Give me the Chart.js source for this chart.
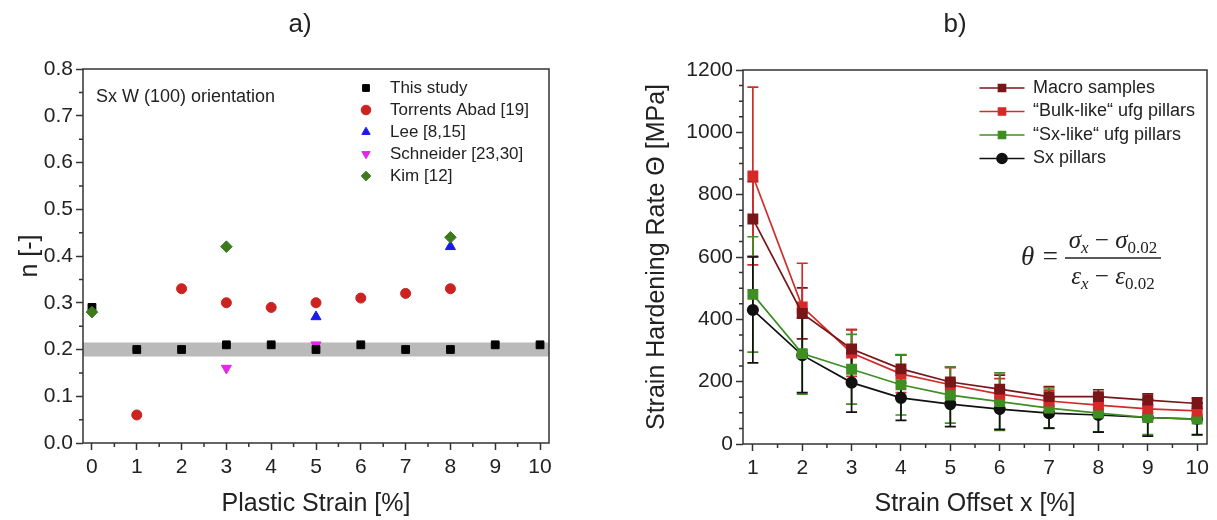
<!DOCTYPE html>
<html>
<head>
<meta charset="utf-8">
<script src="https://cdn.jsdelivr.net/npm/chart.js@4.4.0/dist/chart.umd.min.js"></script>
<style>
body{margin:0;background:#fff;width:1217px;height:520px;overflow:hidden;position:relative}
.box{position:absolute;top:0;height:520px}
#boxA{left:0;width:600px}
#boxB{left:600px;width:617px}
</style>
</head>
<body>
<div class="box" id="boxA"><canvas id="chartA"></canvas></div>
<div class="box" id="boxB"><canvas id="chartB"></canvas></div>
<script>
// ---------- a) n vs plastic strain ----------
const strainA    = [0,1,2,3,4,5,6,7,8,9,10];
const thisStudy  = [0.29,0.20,0.20,0.21,0.21,0.20,0.21,0.20,0.20,0.21,0.21];
const torrentsX  = [1,2,3,4,5,6,7,8];
const torrentsN  = [0.06,0.33,0.30,0.29,0.30,0.31,0.32,0.33];
const leeX       = [5,8];
const leeN       = [0.27,0.42];
const schneiderX = [3,5];
const schneiderN = [0.16,0.21];
const kimX       = [0,3,8];
const kimN       = [0.28,0.42,0.44];
const bandA      = [0.185,0.215];   // grey band
const xRangeA    = [-0.2,10.2];
const xTicksA    = [0,1,2,3,4,5,6,7,8,9,10];
const yTicksA    = [0,0.1,0.2,0.3,0.4,0.5,0.6,0.7,0.8];

// ---------- b) strain hardening rate ----------
const strainB   = [1,2,3,4,5,6,7,8,9,10];
const macro     = [722,419,305,241,199,176,152,152,141,130];
const macroErr  = [120,82,62,45,48,45,32,22,20,18];
const bulk      = [860,440,292,225,190,160,138,125,113,106];
const bulkErr   = [285,140,75,60,55,50,35,30,28,25];
const sxLike    = [480,290,240,190,157,136,115,99,85,80];
const sxLikeErr = [185,130,112,97,90,92,65,60,55,52];
const sxPil     = [430,285,197,148,128,112,99,93,85,80];
const sxPilErr  = [170,120,95,72,72,65,48,55,60,50];
const xRangeB   = [0.8,10.2];
const xTicksB   = [1,2,3,4,5,6,7,8,9,10];
const yTicksB   = [0,200,400,600,800,1000,1200];

const FONT = "'Liberation Sans', Arial, sans-serif";
const INK = '#222';

function pts(xs, ys){ return xs.map((x,i)=>({x:x, y:ys[i]})); }

// majors + minor ticks between them
function tickSet(majors, sub){
  const out=[];
  for(let i=0;i<majors.length;i++){
    out.push(majors[i]);
    if(i<majors.length-1){
      const d=(majors[i+1]-majors[i])/sub;
      for(let k=1;k<sub;k++) out.push(majors[i]+k*d);
    }
  }
  return out;
}
function isMajor(majors, v){ return majors.some(m=>Math.abs(m-v)<1e-9); }

function axis(min, max, majors, sub, fmt, title, titlePad, size, pad){
  return {
    type:'linear', min:min, max:max,
    afterBuildTicks:(s)=>{ s._majors = majors; s.ticks = tickSet(majors, sub).map(v=>({value:v})); },
    afterFit:(s)=>{ if(s.isHorizontal()) s.height=size; else s.width=size; },
    ticks:{ autoSkip:false, maxRotation:0, color:INK, padding:pad,
      font:{family:FONT,size:21},
      callback:(v)=> isMajor(majors,v) ? fmt(v) : '' },
    grid:{ drawOnChartArea:false, drawTicks:true, tickLength:7, tickWidth:1.5,
      tickColor:(c)=> (c.tick && isMajor(majors,c.tick.value)) ? '#333' : 'rgba(0,0,0,0)' },
    border:{ display:false },
    title:{ display:true, text:title, color:INK, font:{family:FONT,size:25}, padding:titlePad }
  };
}

// frame round the plot area + short minor ticks
const framePlugin = {
  id:'frame',
  afterDraw(chart){
    const a=chart.chartArea, c=chart.ctx;
    c.save(); c.strokeStyle='#333'; c.lineWidth=1.5;
    c.strokeRect(a.left, a.top, a.right-a.left, a.bottom-a.top);
    c.beginPath();
    Object.values(chart.scales).forEach(s=>{
      s.ticks.forEach(t=>{
        if(isMajor(s._majors||[], t.value)) return;
        const p=s.getPixelForValue(t.value);
        if(s.isHorizontal()){ c.moveTo(p,a.bottom); c.lineTo(p,a.bottom+4); }
        else { c.moveTo(a.left,p); c.lineTo(a.left-4,p); }
      });
    });
    c.stroke();
    c.restore();
  }
};

// error bars from dataset.errs
const errPlugin = {
  id:'errbars',
  beforeDatasetsDraw(chart){
    const c=chart.ctx, ys=chart.scales.y;
    chart.data.datasets.forEach((ds,i)=>{
      if(!ds.errs) return;
      const meta=chart.getDatasetMeta(i);
      c.save(); c.strokeStyle=ds.borderColor; c.lineWidth=1.7;
      meta.data.forEach((p,j)=>{
        const v=ds.data[j].y, e=ds.errs[j];
        const y1=ys.getPixelForValue(v+e), y2=ys.getPixelForValue(v-e);
        c.beginPath();
        c.moveTo(p.x,y1); c.lineTo(p.x,y2);
        c.moveTo(p.x-5.5,y1); c.lineTo(p.x+5.5,y1);
        c.moveTo(p.x-5.5,y2); c.lineTo(p.x+5.5,y2);
        c.stroke();
      });
      c.restore();
    });
  }
};

// legend drawn by hand so it sits where the original one is
const legendPlugin = {
  id:'myLegend',
  afterDraw(chart, args, o){
    const c=chart.ctx;
    c.save();
    c.font = o.size+'px '+FONT;
    c.textBaseline='middle';
    let row=0;
    chart.data.datasets.forEach(ds=>{
      if(ds.noLegend) return;
      const y=o.y+row*o.dy;
      if(o.line){
        c.strokeStyle=ds.borderColor; c.lineWidth=1.6;
        c.beginPath(); c.moveTo(o.x-o.line/2,y); c.lineTo(o.x+o.line/2,y); c.stroke();
      }
      c.fillStyle=ds.pointBackgroundColor||ds.backgroundColor;
      c.strokeStyle=ds.pointBorderColor||ds.borderColor;
      Chart.helpers.drawPoint(c,{pointStyle:ds.pointStyle,rotation:ds.pointRotation||0,
        radius:o.r!==undefined?o.r:ds.pointRadius,borderWidth:1},o.x,y);
      c.fillStyle=INK;
      c.fillText(ds.label,o.tx,y);
      row++;
    });
    c.restore();
  }
};

// free texts (panel letters, notes, formula)
const textPlugin = {
  id:'texts',
  afterDraw(chart, args, o){
    const c=chart.ctx;
    c.save(); c.fillStyle=INK; c.textBaseline='middle';
    (o.items||[]).forEach(t=>{
      c.font=t.font; c.textAlign=t.align||'left';
      c.fillText(t.text,t.x,t.y);
    });
    if(o.formula){
      const f=o.formula;
      const run=(parts, cx, y)=>{
        let w=0;
        parts.forEach(p=>{ c.font=p.f; w+=c.measureText(p.t).width; });
        let x=cx-w/2;
        c.textAlign='left'; c.textBaseline='alphabetic';
        parts.forEach(p=>{ c.font=p.f; c.fillText(p.t,x,y+(p.dy||0)); x+=c.measureText(p.t).width; });
        return w;
      };
      const big='italic 25px "Liberation Serif", serif', up='25px "Liberation Serif", serif';
      const sI='italic 17px "Liberation Serif", serif', sU='17px "Liberation Serif", serif';
      c.font='italic 27px "Liberation Serif", serif'; c.textAlign='right'; c.textBaseline='middle';
      c.fillText('θ = ', f.x0, f.y);
      run([{t:'σ',f:big},{t:'x',f:sI,dy:5},{t:' − ',f:up},{t:'σ',f:big},{t:'0.02',f:sU,dy:5}], f.cx, f.y-10);
      run([{t:'ε',f:big},{t:'x',f:sI,dy:5},{t:' − ',f:up},{t:'ε',f:big},{t:'0.02',f:sU,dy:5}], f.cx, f.y+26);
      c.strokeStyle=INK; c.lineWidth=1.3;
      c.beginPath(); c.moveTo(f.cx-48,f.y); c.lineTo(f.cx+48,f.y); c.stroke();
    }
    c.restore();
  }
};

Chart.register(framePlugin, errPlugin, legendPlugin, textPlugin);

// ---------- chart a ----------
new Chart(document.getElementById('chartA'), {
  type:'scatter',
  data:{ datasets:[
    { label:'This study', data:pts(strainA,thisStudy), pointStyle:'rect', pointRadius:5.5,
      backgroundColor:'#000', borderColor:'#000', order:1 },
    { label:'Torrents Abad [19]', data:pts(torrentsX,torrentsN), pointStyle:'circle', pointRadius:5,
      backgroundColor:'#cc2222', borderColor:'#cc2222', order:1 },
    { label:'Lee [8,15]', data:pts(leeX,leeN), pointStyle:'triangle', pointRadius:5.8,
      backgroundColor:'#1a1aee', borderColor:'#1a1aee', order:1 },
    { label:'Schneider [23,30]', data:pts(schneiderX,schneiderN), pointStyle:'triangle', pointRotation:180, pointRadius:5.8,
      backgroundColor:'#e028e8', borderColor:'#e028e8', order:1 },
    { label:'Kim [12]', data:pts(kimX,kimN), pointStyle:'rectRot', pointRadius:5.8,
      backgroundColor:'#3c7a1c', borderColor:'#3c7a1c', order:0 },
    { label:'band', noLegend:true, type:'line', data:pts(xRangeA,[bandA[1],bandA[1]]),
      pointRadius:0, borderWidth:0, borderColor:'rgba(0,0,0,0)', backgroundColor:'#bababa',
      fill:{value:bandA[0]}, order:10 }
  ]},
  options:{
    responsive:true, maintainAspectRatio:false, animation:false,
    layout:{ padding:{top:69,right:51,bottom:0,left:0} },
    scales:{
      x: axis(xRangeA[0], xRangeA[1], xTicksA, 2, v=>String(v), 'Plastic Strain [%]', {top:4,bottom:1}, 77, 5),
      y: axis(0, 0.8, yTicksA, 2, v=>v.toFixed(1), 'n [-]', {top:15,bottom:4}, 83, 3)
    },
    plugins:{
      legend:{display:false}, tooltip:{enabled:false},
      myLegend:{ x:366, tx:390, y:88, dy:22, size:17, r:4.8 },
      texts:{ items:[
        {text:'a)', x:300, y:25, font:'26px '+FONT, align:'center'},
        {text:'Sx W (100) orientation', x:96, y:97, font:'18px '+FONT}
      ]}
    }
  }
});

// ---------- chart b ----------
function lineSet(label, ys, errs, color, style, r){
  return { label:label, data:pts(strainB,ys), errs:errs, borderColor:color, backgroundColor:color,
    pointBackgroundColor:color, pointBorderColor:color, pointStyle:style, pointRadius:r,
    borderWidth:1.7, tension:0, fill:false };
}
new Chart(document.getElementById('chartB'), {
  type:'line',
  data:{ datasets:[
    lineSet('Macro samples', macro, macroErr, '#7a1518', 'rect', 6.5),
    lineSet('\u201CBulk-like\u201C ufg pillars', bulk, bulkErr, '#d42a2a', 'rect', 6.5),
    lineSet('\u201CSx-like\u201C ufg pillars', sxLike, sxLikeErr, '#3e8e22', 'rect', 6.5),
    lineSet('Sx pillars', sxPil, sxPilErr, '#111111', 'circle', 5.2)
  ]},
  options:{
    responsive:true, maintainAspectRatio:false, animation:false,
    layout:{ padding:{top:70,right:10,bottom:0,left:0} },
    scales:{
      x: axis(xRangeB[0], xRangeB[1], xTicksB, 2, v=>String(v), 'Strain Offset x [%]', {top:4,bottom:1}, 76, 5),
      y: axis(0, 1200, yTicksB, 4, v=>String(v), 'Strain Hardening Rate \u0398 [MPa]', {top:42,bottom:4}, 143, 3)
    },
    plugins:{
      legend:{display:false}, tooltip:{enabled:false},
      myLegend:{ x:402, tx:433, y:88, dy:23.5, size:18, line:45, r:5 },
      texts:{ items:[
        {text:'b)', x:355, y:25, font:'26px '+FONT, align:'center'}
      ], formula:{ x0:466, cx:513, y:258 } }
    }
  }
});
</script>
</body>
</html>
